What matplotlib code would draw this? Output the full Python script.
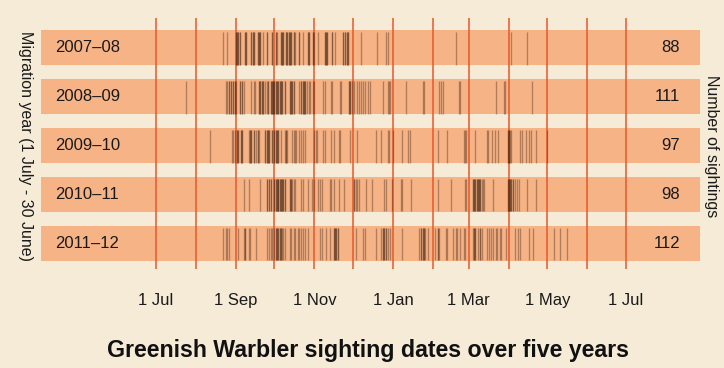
import numpy as np
import matplotlib.pyplot as plt

# sighting days, counted from 1 July of each migration year
seasons = ['2007\u201308', '2008\u201309', '2009\u201310', '2010\u201311', '2011\u201312']

days_0708 = [52, 55, 62, 63, 64, 65, 69, 70, 74, 75, 76, 79, 80, 81, 83, 86, 90, 93, 94, 97,
             98, 99, 101, 102, 103, 104, 105, 107, 108, 111, 114, 118, 119, 122, 123, 126, 131,
             132, 133, 137, 139, 145, 147, 148, 149, 159, 172, 179, 180, 233, 276, 288,
             62, 63, 64, 65, 69, 70, 74, 75, 76, 79, 80, 81, 97, 98, 99, 101, 102, 103, 104,
             105, 107, 118, 119, 131, 132, 133, 145, 147, 148, 149, 86, 90, 93, 111, 122, 137]
days_0809 = [23, 54, 55, 57, 58, 60, 61, 62, 65, 67, 68, 74, 76, 77, 80, 81, 82, 83, 85, 86,
             87, 89, 90, 91, 92, 93, 94, 95, 96, 97, 98, 100, 104, 105, 106, 107, 111, 113, 114,
             115, 116, 117, 119, 120, 122, 123, 130, 131, 136, 137, 143, 144, 150, 151, 152, 154,
             156, 158, 159, 161, 162, 165, 166, 176, 180, 181, 182, 194, 207, 208, 220, 221, 223,
             235, 236, 264, 270, 271, 292,
             89, 90, 91, 92, 93, 94, 95, 96, 97, 98, 100, 80, 81, 82, 83, 57, 58, 60, 61, 65, 67,
             104, 105, 106, 107, 113, 114, 115, 116, 150, 151, 87]
days_0910 = [42, 59, 60, 61, 63, 64, 66, 67, 72, 73, 74, 76, 78, 79, 80, 85, 86, 87, 88, 90,
             92, 93, 94, 95, 97, 100, 101, 102, 106, 107, 108, 109, 111, 113, 114, 116, 123, 124,
             125, 130, 131, 136, 138, 142, 143, 151, 156, 171, 175, 180, 181, 184, 191, 196, 197,
             219, 226, 239, 240, 241, 248, 257, 258, 261, 263, 266, 273, 274, 275, 276, 283, 284,
             287, 290, 291, 295, 304,
             63, 64, 66, 67, 73, 74, 76, 79, 85, 86, 87, 88, 90, 92, 93, 94, 95, 273, 274, 101]
days_1011 = [68, 72, 81, 86, 88, 89, 92, 93, 94, 95, 95, 96, 97, 98, 99, 100, 104, 105, 106,
             107, 108, 113, 114, 118, 121, 123, 126, 127, 129, 135, 136, 138, 142, 146, 154, 155,
             156, 158, 163, 168, 177, 179, 183, 190, 191, 198, 219, 229, 240, 241, 246, 247, 248,
             249, 250, 251, 252, 253, 254, 255, 262, 273, 274, 275, 276, 277, 279, 280, 282, 288,
             295,
             92, 93, 94, 95, 96, 97, 98, 99, 100, 88, 89, 86, 104, 105, 246, 247, 248, 249, 250,
             251, 252, 273, 274, 275, 276, 277, 154]
days_1112 = [52, 54, 55, 57, 64, 68, 69, 72, 73, 78, 86, 88, 89, 90, 92, 93, 94, 95, 96, 97,
             98, 99, 100, 104, 105, 107, 108, 110, 111, 113, 114, 116, 118, 127, 129, 132, 135,
             138, 139, 140, 141, 155, 161, 162, 171, 175, 176, 177, 179, 180, 182, 191, 204, 206,
             207, 208, 209, 211, 217, 219, 220, 225, 226, 231, 233, 234, 236, 239, 240, 246, 247,
             248, 250, 252, 253, 257, 259, 260, 262, 264, 265, 267, 268, 272, 279, 281, 283, 290,
             293, 309, 314, 319,
             138, 139, 140, 141, 93, 94, 95, 96, 97, 176, 177, 179, 206, 207, 208, 219, 247, 248,
             252, 69]

sightings = [days_0708, days_0809, days_0910, days_1011, days_1112]
counts = [88, 111, 97, 98, 112]

# July .. June
month_lengths = [31, 31, 30, 31, 30, 31, 31, 28, 31, 30, 31, 30]
tick_names = ['1 Jul', '1 Sep', '1 Nov', '1 Jan', '1 Mar', '1 May', '1 Jul']

bg = '#f5ebd7'
band_col = '#f5b386'
red = '#e9582a'

plt.rcParams['font.family'] = ['Liberation Sans', 'DejaVu Sans']

fig = plt.figure(figsize=(7.24, 3.68), dpi=100, facecolor=bg)
ax = fig.add_axes([41 / 724, 1 - 269 / 368, 659 / 724, 251 / 368])
ax.set_facecolor(bg)

x0, x1 = -89.3, 422.5
ax.set_xlim(x0, x1)
ax.set_ylim(len(seasons) - 1 + 0.526, -0.606)

rows = np.arange(len(seasons))
ax.barh(rows, x1 - x0, left=x0, height=0.705, color=band_col, zorder=1)

bounds = np.concatenate([[0], np.cumsum(month_lengths)])
for b in bounds:
    ax.axvline(b, color=red, lw=1.1, zorder=2)

for i, days in enumerate(sightings):
    ax.vlines(days, i - 0.32, i + 0.35, color='#3a1d0c', alpha=0.36, lw=0.95, zorder=3)
    ax.text(-78.4, i, seasons[i], ha='left', va='center', fontsize=12, color='#1a1a1a', zorder=4)
    ax.text(407, i, str(counts[i]), ha='right', va='center', fontsize=12, color='#1a1a1a', zorder=4)

ax.set_xticks(bounds[::2])
ax.set_xticklabels(tick_names, fontsize=12, color='#1a1a1a')
ax.tick_params(axis='x', length=0, pad=17)
ax.set_yticks([])
for s in ax.spines.values():
    s.set_visible(False)

fig.text(25 / 724, 1 - 146 / 368, 'Migration year (1 July - 30 June)', rotation=270,
         ha='center', va='center', fontsize=11.5, color='#1a1a1a')
fig.text(711 / 724, 1 - 146 / 368, 'Number of sightings', rotation=270,
         ha='center', va='center', fontsize=11.5, color='#1a1a1a')
fig.text(368 / 724, 1 - 350 / 368, 'Greenish Warbler sighting dates over five years',
         ha='center', va='center', fontsize=16.7, fontweight='bold', color='#111111')

fig.savefig('out.png', dpi=100, facecolor=bg)
